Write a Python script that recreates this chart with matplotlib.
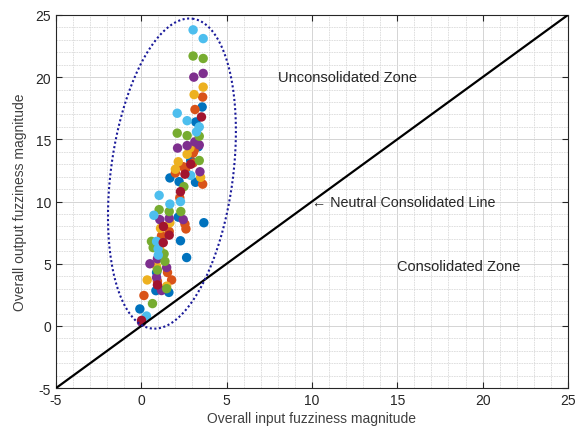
import numpy as np
import matplotlib
matplotlib.use("Agg")
import matplotlib.pyplot as plt
from matplotlib.ticker import MultipleLocator

plt.rcParams["font.family"] = ["Liberation Sans", "DejaVu Sans"]
plt.rcParams["axes.unicode_minus"] = False

# input / output fuzziness magnitude per series
blue_x = [3.57, 3.2, 3.34, 2.9, 3.18, 1.68, 2.22, 2.17, 3.67, 2.3, 2.66, 1.62, 0.86, -0.08, 1.2, 0.9]
blue_y = [17.6, 16.4, 14.4, 13.3, 11.55, 11.9, 11.6, 8.75, 8.3, 6.85, 5.5, 2.7, 2.84, 1.37, 7.0, 4.3]
orange_x = [3.6, 3.15, 3.1, 3.04, 2.46, 3.04, 2.6, 3.6, 2.26, 2.56, 2.62, 1.64, 1.19, 1.54, 1.78, 0.16, 0.95, 2.0]
orange_y = [18.4, 17.4, 14.1, 13.9, 12.8, 13.1, 12.5, 11.4, 10.3, 8.2, 7.8, 7.6, 7.25, 4.3, 3.7, 2.45, 3.6, 12.3]
yellow_x = [3.63, 3.1, 2.69, 2.17, 2.0, 3.48, 1.68, 1.13, 0.35, 1.49, 0.9, 2.85, 1.1]
yellow_y = [19.2, 18.6, 13.8, 13.2, 12.6, 11.95, 8.3, 7.85, 3.7, 3.2, 4.8, 14.3, 6.1]
purple_x = [3.08, 3.63, 2.13, 2.69, 3.4, 3.14, 3.44, 1.09, 1.64, 2.46, 0.51, 1.49, 1.19, 0.02, 0.95, 0.9]
purple_y = [20.0, 20.3, 14.3, 14.5, 14.55, 14.8, 12.4, 8.55, 8.65, 8.55, 5.0, 4.7, 2.85, 0.3, 5.4, 3.9]
green_x = [3.04, 3.63, 2.11, 2.69, 3.4, 3.4, 2.5, 1.05, 1.64, 2.32, 0.6, 1.34, 1.39, 1.49, 0.66, 0.7, 0.95]
green_y = [21.7, 21.5, 15.5, 15.3, 15.25, 13.3, 11.2, 9.35, 9.2, 9.2, 6.8, 5.8, 5.2, 3.0, 1.8, 6.3, 4.5]
cyan_x = [3.04, 3.63, 2.11, 2.69, 3.4, 3.24, 1.05, 2.3, 1.68, 0.74, 0.9, 0.99, 0.31, 2.9, 1.0]
cyan_y = [23.8, 23.1, 17.1, 16.5, 16.0, 15.6, 10.5, 10.0, 9.8, 8.9, 6.8, 6.2, 0.8, 12.1, 5.7]
red_x = [3.53, 2.56, 2.3, 1.29, 0.02, 1.64, 2.9, 0.95, 1.3]
red_y = [16.8, 12.2, 10.8, 6.7, 0.45, 7.3, 13.0, 3.3, 8.0]

series = [
    (blue_x, blue_y, "#0072BD"),
    (orange_x, orange_y, "#D95319"),
    (yellow_x, yellow_y, "#EDB120"),
    (purple_x, purple_y, "#7E2F8E"),
    (green_x, green_y, "#77AC30"),
    (cyan_x, cyan_y, "#4DBEEE"),
    (red_x, red_y, "#A2142F"),
]

# neutral line y = x over the axis range
lim = [-5, 25]

# enclosing ellipse: centre, semi-axis vectors
ell_center = (1.8, 12.25)
ell_a = (1.2, 12.45)
ell_b = (3.55, -0.6)

fig = plt.figure(figsize=(5.76, 4.31), dpi=100)
ax = fig.add_axes([0.097, 0.097, 0.889, 0.866])

ax.set_xlim(lim)
ax.set_ylim(lim)
ax.xaxis.set_major_locator(MultipleLocator(5))
ax.yaxis.set_major_locator(MultipleLocator(5))
ax.xaxis.set_minor_locator(MultipleLocator(1))
ax.yaxis.set_minor_locator(MultipleLocator(1))
ax.grid(True, which="major", color="#d4d4d4", linewidth=0.7)
ax.grid(True, which="minor", color="#dadada", linewidth=0.6, linestyle=(0, (2, 1)))
ax.set_axisbelow(True)

for xs, ys, c in series:
    ax.scatter(xs, ys, s=46, color=c, edgecolors="none", zorder=3)

ax.plot(lim, lim, color="black", linewidth=1.6, zorder=4)

t = np.linspace(0, 2 * np.pi, 400)
ex = ell_center[0] + ell_a[0] * np.cos(t) + ell_b[0] * np.sin(t)
ey = ell_center[1] + ell_a[1] * np.cos(t) + ell_b[1] * np.sin(t)
ax.plot(ex, ey, color="#1a1a9a", linewidth=1.5, linestyle=(0, (1, 1.2)), zorder=5)

txt = "#262626"
ax.text(8, 20, "Unconsolidated Zone", fontsize=10.5, color=txt, va="center")
ax.text(15, 4.8, "Consolidated Zone", fontsize=10.5, color=txt, va="center")
ax.text(10, 10, "\u2190 Neutral Consolidated Line", fontsize=10.3, color=txt, va="center")

ax.set_xlabel("Overall input fuzziness magnitude", fontsize=10, color="#404040", labelpad=3)
ax.set_ylabel("Overall output fuzziness magnitude", fontsize=10, color="#404040", labelpad=6)

ax.tick_params(which="both", direction="in", top=True, right=True, colors=txt, labelsize=10)
ax.tick_params(which="major", length=4)
ax.tick_params(which="minor", length=0)
for sp in ax.spines.values():
    sp.set_color(txt)
    sp.set_linewidth(0.8)

fig.savefig("out.png", dpi=100)
